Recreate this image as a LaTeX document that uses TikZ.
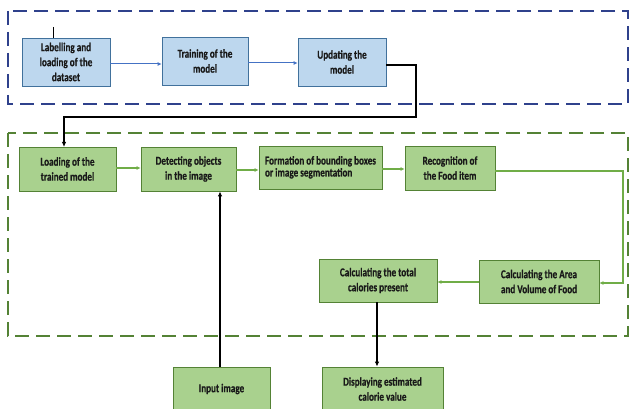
\documentclass[tikz,border=0pt]{standalone}
\usepackage{fontspec}
\setmainfont{Carlito}[FakeStretch=0.76, BoldFeatures={FakeBold=0.6}]
\usetikzlibrary{arrows.meta}
\definecolor{bfill}{RGB}{189,215,238}
\definecolor{bdraw}{RGB}{65,113,156}
\definecolor{barrow}{RGB}{68,114,196}
\definecolor{bdash}{RGB}{47,65,140}
\definecolor{gfill}{RGB}{169,209,142}
\definecolor{gdraw}{RGB}{84,130,53}
\definecolor{garrow}{RGB}{112,173,71}
\definecolor{gdash}{RGB}{84,130,53}
\tikzset{
  bbox/.style={draw=bdraw, fill=bfill, line width=0.8pt, inner sep=2pt, align=center,
    font=\fontsize{12}{15}\selectfont\bfseries, text=black!90},
  gbox/.style={draw=gdraw, fill=gfill, line width=0.8pt, inner sep=2pt, align=center,
    font=\fontsize{12}{15}\selectfont\bfseries, text=black!90},
  barr/.style={draw=barrow, line width=1pt, -{Latex[length=4pt,width=4pt]}},
  garr/.style={draw=garrow, line width=1.2pt, -{Latex[length=4pt,width=4pt]}},
  karr/.style={draw=black, line width=1.5pt, -{Latex[length=5pt,width=4.5pt]}},
  dashbox/.style={line width=1.3pt, dash pattern=on 14pt off 7pt},
}
\begin{document}
\begin{tikzpicture}[x=1pt,y=-1pt]
\useasboundingbox (0,0) rectangle (629,409);
\fill[white] (0,0) rectangle (629,409);
% dashed frames
\draw[dashbox, bdash] (8,11) rectangle (628,104);
\draw[dashbox, gdash] (8,133) rectangle (628,336);
% blue boxes
\node[bbox, minimum width=88pt, minimum height=48pt] (lab) at (66,62) {Labelling and\\loading of the\\dataset};
\node[bbox, minimum width=86pt, minimum height=48pt] (tr) at (205,61) {Training of the\\model};
\node[bbox, minimum width=88pt, minimum height=48pt] (up) at (342,62) {Updating the\\model};
% green boxes
\node[gbox, minimum width=97pt, minimum height=44pt] (load) at (67.5,169) {Loading of the\\trained model};
\node[gbox, minimum width=95pt, minimum height=44pt] (det) at (188.5,169) {Detecting objects\\in the image};
\node[gbox, minimum width=123pt, minimum height=43pt] (form) at (320.5,167.5) {\begin{tabular}{@{}l@{}}Formation of bounding boxes\\[-3pt]or image segmentation\end{tabular}};
\node[gbox, minimum width=90pt, minimum height=44pt] (rec) at (450,168) {Recognition of\\the Food item};
\node[gbox, minimum width=120pt, minimum height=43pt] (area) at (539,281.5) {Calculating the Area\\and Volume of Food};
\node[gbox, minimum width=118pt, minimum height=43pt] (tot) at (378,280.5) {Calculating the total\\calories present};
\node[gbox, minimum width=121pt, minimum height=44pt] (disp) at (382.5,389) {Displaying estimated\\calorie value};
\node[gbox, minimum width=97pt, minimum height=44pt] (inp) at (221.5,389) {Input image};
% small tick above first box
\coordinate (tick) at (53,27);
\draw[black, line width=0.6pt] (tick) -- (tick |- lab.north);
% blue arrows
\draw[barr] (lab.east |- 0,64) -- (tr.west |- 0,64);
\draw[barr] (tr.east |- 0,63) -- (up.west |- 0,63);
% black connector
\coordinate (c1) at (416,117);
\draw[karr] (up.east |- 0,65) -| (c1) -| (64,147);
% green arrows
\draw[garr] (load.east |- 0,168) -- (det.west |- 0,168);
\draw[garr] (det.east |- 0,170) -- (form.west |- 0,170);
\draw[garr] (form.east |- 0,169) -- (rec.west |- 0,169);
\coordinate (c2) at (623,171);
\draw[garr] (rec.east |- 0,171) -- (c2) |- (area.east |- 0,283);
\draw[garr] (area.west |- 0,282) -- (tot.east |- 0,282);
% black vertical arrows
\draw[karr] (tot.south -| 377,0) -- (disp.north -| 377,0);
\draw[karr] (inp.north -| 220,0) -- (det.south -| 220,0);
\end{tikzpicture}
\end{document}
